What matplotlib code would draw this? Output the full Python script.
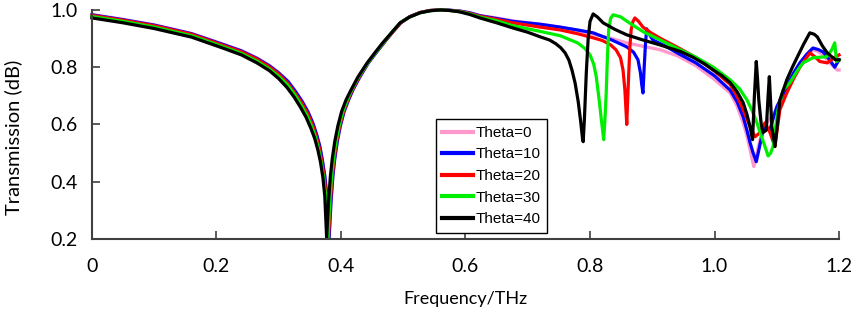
import numpy as np
import matplotlib
matplotlib.use('Agg')
import matplotlib.pyplot as plt

# ---- data -------------------------------------------------------------------
f_pink = [0, 0.05, 0.10, 0.16, 0.21, 0.24, 0.265, 0.285, 0.30, 0.315, 0.327, 0.338, 0.347,
          0.355, 0.361, 0.366, 0.370, 0.374, 0.378, 0.381, 0.384, 0.387, 0.390, 0.394, 0.399,
          0.405, 0.412, 0.419, 0.430, 0.444, 0.457, 0.469, 0.482, 0.496, 0.51, 0.527, 0.543,
          0.559, 0.575, 0.591, 0.607, 0.623,
          0.65, 0.676, 0.72, 0.752, 0.78, 0.805, 0.835, 0.859, 0.885, 0.912, 0.94, 0.97, 0.998,
          1.025, 1.036, 1.046, 1.052, 1.057, 1.060, 1.063, 1.068, 1.073, 1.081, 1.089, 1.099,
          1.116, 1.127, 1.137, 1.148, 1.158, 1.166, 1.174, 1.185, 1.197, 1.2]
T_pink = [0.984, 0.967, 0.948, 0.918, 0.881, 0.858, 0.832, 0.806, 0.781, 0.751, 0.716, 0.68, 0.645,
          0.605, 0.565, 0.525, 0.478, 0.42, 0.34, 0.205, 0.33, 0.42, 0.48, 0.54, 0.595,
          0.645, 0.685, 0.72, 0.765, 0.815, 0.852, 0.885, 0.92, 0.955, 0.976, 0.991, 0.998,
          1.0, 0.999, 0.996, 0.99, 0.98,
          0.972, 0.962, 0.95, 0.94, 0.928, 0.915, 0.90, 0.885, 0.873, 0.861, 0.84, 0.805, 0.76,
          0.71, 0.665, 0.606, 0.56, 0.512, 0.48, 0.453, 0.50, 0.547, 0.592, 0.62, 0.652,
          0.72, 0.765, 0.80, 0.835, 0.861, 0.855, 0.843, 0.815, 0.79, 0.79]

f_blue = [0, 0.05, 0.10, 0.16, 0.21, 0.24, 0.265, 0.285, 0.30, 0.315, 0.327, 0.338, 0.347,
          0.355, 0.361, 0.366, 0.370, 0.374, 0.378, 0.381, 0.384, 0.387, 0.390, 0.394, 0.399,
          0.405, 0.412, 0.419, 0.430, 0.444, 0.457, 0.469, 0.482, 0.496, 0.51, 0.527, 0.543,
          0.559, 0.575, 0.591, 0.607, 0.623,
          0.65, 0.676, 0.72, 0.752, 0.78, 0.805, 0.835, 0.859, 0.87, 0.877, 0.881, 0.883, 0.885,
          0.887, 0.889, 0.891, 0.895, 0.901, 0.92, 0.94, 0.97, 1.0, 1.025, 1.036, 1.046, 1.052,
          1.057, 1.062, 1.067, 1.072, 1.077, 1.081, 1.089, 1.094, 1.100, 1.116, 1.127, 1.137,
          1.148, 1.158, 1.166, 1.174, 1.185, 1.193, 1.2]
T_blue = [0.983, 0.966, 0.947, 0.917, 0.880, 0.857, 0.831, 0.805, 0.780, 0.750, 0.715, 0.679, 0.644,
          0.604, 0.564, 0.524, 0.477, 0.42, 0.34, 0.205, 0.33, 0.42, 0.48, 0.54, 0.595,
          0.645, 0.685, 0.72, 0.765, 0.815, 0.852, 0.885, 0.92, 0.955, 0.976, 0.991, 0.998,
          1.0, 0.999, 0.996, 0.99, 0.98,
          0.97, 0.96, 0.95, 0.94, 0.93, 0.92, 0.895, 0.871, 0.852, 0.826, 0.78, 0.74, 0.71,
          0.80, 0.88, 0.934, 0.915, 0.895, 0.875, 0.85, 0.815, 0.77, 0.72, 0.68, 0.627, 0.58,
          0.537, 0.50, 0.47, 0.52, 0.572, 0.592, 0.582, 0.62, 0.662, 0.732, 0.78, 0.815,
          0.845, 0.867, 0.862, 0.854, 0.825, 0.80, 0.826]

f_red = [0, 0.05, 0.10, 0.16, 0.21, 0.24, 0.265, 0.285, 0.30, 0.314, 0.326, 0.337, 0.346,
         0.354, 0.360, 0.365, 0.369, 0.373, 0.377, 0.380, 0.383, 0.386, 0.389, 0.393, 0.398,
         0.404, 0.411, 0.418, 0.429, 0.443, 0.456, 0.468, 0.482, 0.496, 0.51, 0.527, 0.543,
         0.559, 0.575, 0.591, 0.607, 0.623,
         0.65, 0.676, 0.72, 0.752, 0.78, 0.806, 0.82, 0.833, 0.842, 0.849, 0.853, 0.856, 0.858,
         0.859, 0.860, 0.862, 0.864, 0.866, 0.869, 0.872, 0.878, 0.885, 0.898, 0.912, 0.94,
         0.965, 0.998, 1.025, 1.036, 1.046, 1.057, 1.065, 1.073, 1.081, 1.089, 1.097, 1.101,
         1.105, 1.116, 1.127, 1.137, 1.153, 1.162, 1.169, 1.181, 1.194, 1.2]
T_red = [0.981, 0.964, 0.945, 0.915, 0.877, 0.854, 0.828, 0.801, 0.776, 0.745, 0.71, 0.675, 0.64,
         0.60, 0.56, 0.52, 0.474, 0.417, 0.34, 0.205, 0.33, 0.42, 0.48, 0.54, 0.595,
         0.645, 0.685, 0.72, 0.765, 0.815, 0.852, 0.885, 0.92, 0.955, 0.976, 0.991, 0.998,
         1.0, 0.998, 0.995, 0.988, 0.978,
         0.967, 0.955, 0.94, 0.93, 0.917, 0.902, 0.893, 0.878, 0.86, 0.833, 0.79, 0.72, 0.64,
         0.60, 0.66, 0.77, 0.87, 0.93, 0.96, 0.972, 0.96, 0.94, 0.92, 0.902, 0.87,
         0.84, 0.79, 0.74, 0.70, 0.652, 0.592, 0.557, 0.572, 0.606, 0.572, 0.523, 0.59,
         0.652, 0.71, 0.76, 0.80, 0.85, 0.835, 0.82, 0.815, 0.836, 0.843]

f_green = [0, 0.05, 0.10, 0.16, 0.21, 0.24, 0.265, 0.285, 0.30, 0.314, 0.326, 0.336, 0.345,
           0.353, 0.359, 0.364, 0.368, 0.372, 0.376, 0.379, 0.382, 0.385, 0.388, 0.392, 0.397,
           0.403, 0.410, 0.417, 0.428, 0.443, 0.456, 0.468, 0.481, 0.495, 0.51, 0.527, 0.543,
           0.559, 0.575, 0.591, 0.607, 0.623,
           0.65, 0.676, 0.72, 0.752, 0.78, 0.792, 0.80, 0.806, 0.81, 0.815, 0.818, 0.822, 0.824,
           0.826, 0.828, 0.830, 0.833, 0.837, 0.849, 0.865, 0.886, 0.91, 0.94, 0.97, 0.998,
           1.025, 1.04, 1.052, 1.06, 1.068, 1.075, 1.081, 1.086, 1.090, 1.094, 1.098, 1.102,
           1.110, 1.121, 1.132, 1.142, 1.158, 1.170, 1.180, 1.188, 1.193, 1.196, 1.2]
T_green = [0.977, 0.960, 0.940, 0.910, 0.872, 0.848, 0.821, 0.794, 0.768, 0.738, 0.703, 0.668, 0.633,
           0.593, 0.555, 0.514, 0.47, 0.415, 0.34, 0.205, 0.33, 0.42, 0.48, 0.54, 0.595,
           0.645, 0.685, 0.72, 0.765, 0.815, 0.852, 0.885, 0.92, 0.955, 0.975, 0.99, 0.997,
           1.0, 0.998, 0.994, 0.986, 0.975,
           0.962, 0.945, 0.925, 0.91, 0.885, 0.865, 0.843, 0.81, 0.767, 0.68, 0.62, 0.547, 0.62,
           0.71, 0.84, 0.93, 0.97, 0.983, 0.976, 0.952, 0.923, 0.898, 0.866, 0.835, 0.80,
           0.756, 0.725, 0.686, 0.65, 0.606, 0.56, 0.523, 0.49, 0.50, 0.523, 0.59, 0.652,
           0.72, 0.746, 0.785, 0.815, 0.833, 0.835, 0.836, 0.86, 0.885, 0.82, 0.826]

f_black = [0, 0.05, 0.10, 0.16, 0.21, 0.24, 0.265, 0.285, 0.30, 0.313, 0.325, 0.335, 0.344,
           0.352, 0.358, 0.363, 0.367, 0.371, 0.374, 0.377, 0.380, 0.383, 0.386, 0.390, 0.395,
           0.401, 0.408, 0.416, 0.427, 0.442, 0.455, 0.467, 0.481, 0.495, 0.51, 0.527, 0.543,
           0.559, 0.575, 0.591, 0.607, 0.623,
           0.65, 0.676, 0.70, 0.72, 0.735, 0.745, 0.753, 0.76, 0.766, 0.771, 0.776, 0.781, 0.785,
           0.788, 0.789, 0.791, 0.794, 0.797, 0.800, 0.805, 0.812, 0.821, 0.84, 0.859, 0.885,
           0.912, 0.945, 0.965, 0.985, 0.998, 1.012, 1.025, 1.036, 1.046, 1.052, 1.057, 1.061,
           1.064, 1.067, 1.069, 1.071, 1.075, 1.078, 1.083, 1.086, 1.088, 1.090, 1.092, 1.097,
           1.101, 1.105, 1.116, 1.125, 1.133, 1.143, 1.153, 1.16, 1.165, 1.173, 1.181, 1.194, 1.2]
T_black = [0.972, 0.955, 0.935, 0.905, 0.867, 0.843, 0.815, 0.788, 0.76, 0.73, 0.695, 0.66, 0.625,
           0.585, 0.55, 0.51, 0.47, 0.415, 0.35, 0.205, 0.33, 0.42, 0.48, 0.54, 0.595,
           0.645, 0.685, 0.72, 0.765, 0.815, 0.852, 0.885, 0.92, 0.955, 0.975, 0.99, 0.997,
           1.0, 0.998, 0.993, 0.984, 0.972,
           0.955, 0.937, 0.922, 0.906, 0.895, 0.882, 0.868, 0.85, 0.825, 0.79, 0.745, 0.68, 0.61,
           0.55, 0.54, 0.62, 0.78, 0.90, 0.96, 0.986, 0.975, 0.955, 0.932, 0.913, 0.895,
           0.878, 0.855, 0.835, 0.81, 0.79, 0.77, 0.746, 0.715, 0.676, 0.635, 0.592, 0.547,
           0.70, 0.82, 0.76, 0.686, 0.60, 0.572, 0.58, 0.70, 0.767, 0.68, 0.592, 0.523,
           0.60, 0.686, 0.756, 0.80, 0.836, 0.88, 0.92, 0.915, 0.906, 0.875, 0.85, 0.826, 0.826]

labels = ['Theta=0', 'Theta=10', 'Theta=20', 'Theta=30', 'Theta=40']
colors = ['#ff99cc', '#0000ff', '#ff0000', '#00ee00', '#000000']

xticks = [0, 0.2, 0.4, 0.6, 0.8, 1.0, 1.2]
xticklabels = ['0', '0.2', '0.4', '0.6', '0.8', '1.0', '1.2']
yticks = [0.2, 0.4, 0.6, 0.8, 1.0]

# ==============================================================================
# Plot
# ==============================================================================
plt.rcParams['font.family'] = ['Lato', 'DejaVu Sans']

fig = plt.figure(figsize=(8.51, 3.2), dpi=100)
ax = fig.add_axes([0.108, 0.253, 0.878, 0.716])

series = [(f_pink, T_pink), (f_blue, T_blue), (f_red, T_red), (f_green, T_green), (f_black, T_black)]
for (f, T), c, lab in zip(series, colors, labels):
    ax.plot(f, T, color=c, lw=2.3, label=lab, clip_on=False, solid_joinstyle='round')

ax.set_xlim(0, 1.2)
ax.set_ylim(0.2, 1.0)
ax.set_xticks(xticks)
ax.set_xticklabels(xticklabels)
ax.set_yticks(yticks)
ax.set_yticklabels(['%.1f' % v for v in yticks])
ax.tick_params(direction='in', length=6, width=1.2, color='#404040', labelsize=14)
ax.tick_params(axis='x', pad=14)
ax.tick_params(axis='y', pad=10)
for s in ['top', 'right']:
    ax.spines[s].set_visible(False)
for s in ['left', 'bottom']:
    ax.spines[s].set_color('#404040')
    ax.spines[s].set_linewidth(1.5)

ax.set_xlabel('Frequency/THz', fontsize=13, labelpad=11)
ax.set_ylabel('Transmission (dB)', fontsize=14.5)
ax.yaxis.set_label_coords(-0.094, 0.445)

leg = ax.legend(loc='upper left', bbox_to_anchor=(0.46, 0.524), borderaxespad=0,
                fancybox=False, edgecolor='black', framealpha=1,
                prop={'family': 'Liberation Sans', 'size': 11},
                handlelength=2.0, handletextpad=0.15, labelspacing=0.5,
                borderpad=0.45)
leg.get_frame().set_linewidth(1.0)
for line in leg.get_lines():
    line.set_linewidth(3)

plt.savefig('out.png', dpi=100)
